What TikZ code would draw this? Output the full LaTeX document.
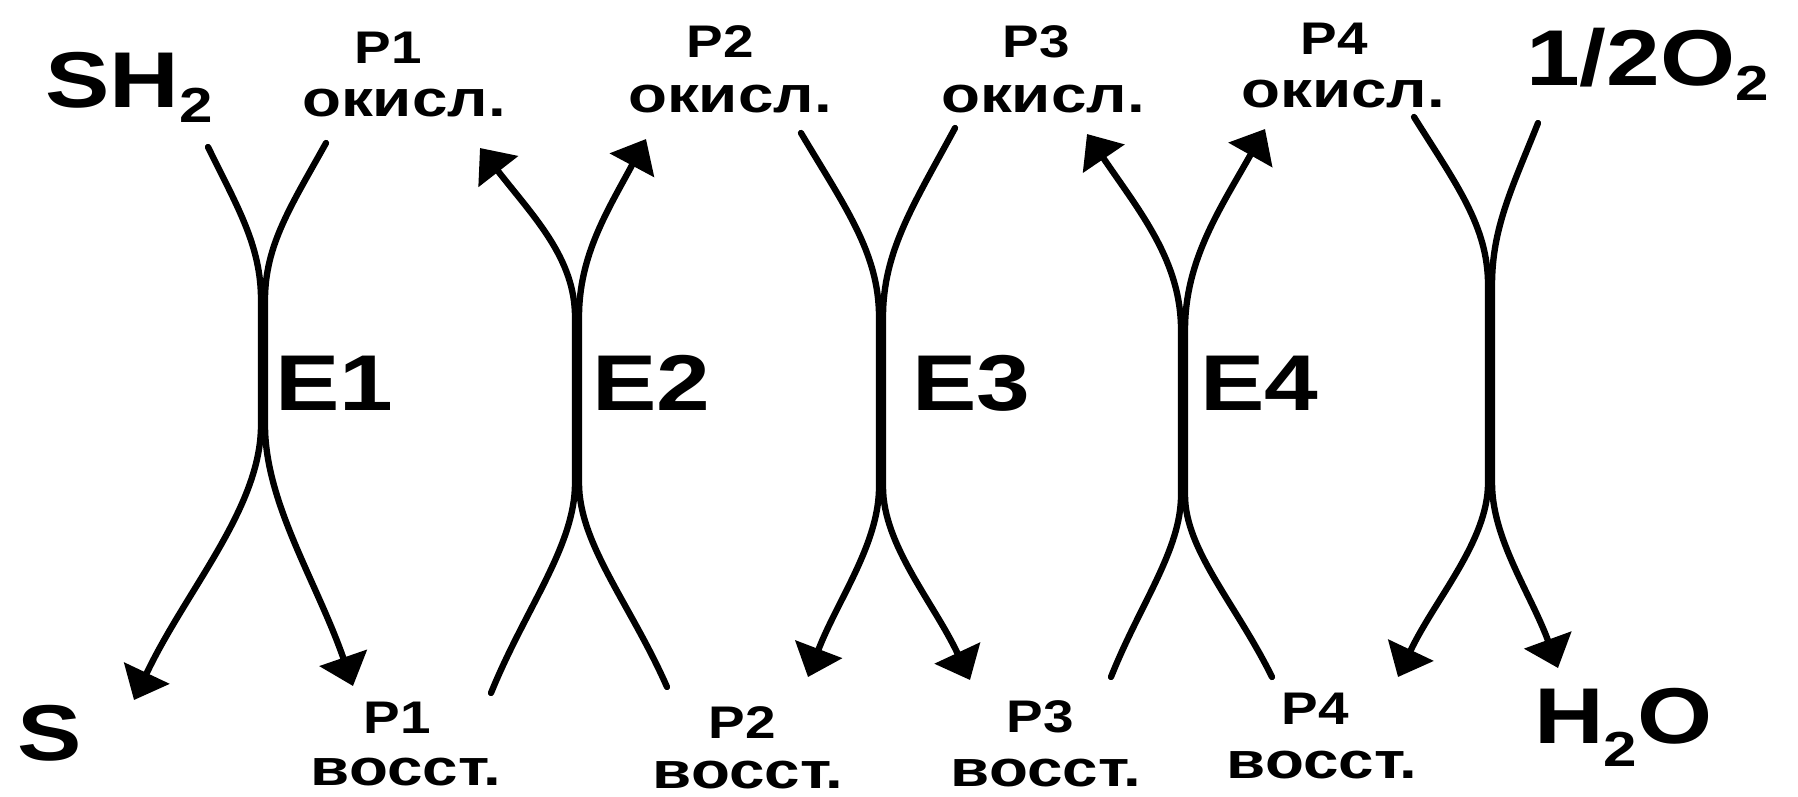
\documentclass[tikz,border=0pt]{standalone}
\usepackage{fontspec}
\setmainfont{Liberation Sans}
\usepackage{graphicx}
\usetikzlibrary{arrows.meta}
\newcommand\bigtxt[1]{\scalebox{1.22}[1]{\fontsize{22.5}{27}\selectfont\bfseries #1}}
\newcommand\ptxt[1]{\scalebox{1.2}[1]{\fontsize{13}{15}\selectfont\bfseries #1}}
\newcommand\rtxt[1]{\scalebox{1.25}[1]{\fontsize{14.5}{17}\selectfont\bfseries #1}}
\newcommand\subtxt[2]{\raisebox{-#1}{\fontsize{14}{16}\selectfont #2}}
\begin{document}
\begin{tikzpicture}[x=0.01cm,y=-0.01cm,
  lbl/.style={inner sep=0pt, outer sep=0pt, anchor=base},
  lblw/.style={inner sep=0pt, outer sep=0pt, anchor=base west},
  cur/.style={line width=1.8pt, line cap=round},
  arr/.style={cur, -{Triangle[length=8.5pt,width=14pt]}}
]
\useasboundingbox (0,0) rectangle (1798,796);

% big labels
\node[lblw] (sh2) at (45,107) {\bigtxt{SH\subtxt{4.5pt}{2}}};
\node[lblw] (s) at (18,760) {\bigtxt{S}};
\node[lblw] (o2) at (1526,85) {\bigtxt{1/2O\subtxt{4.3pt}{2}}};
\node[lblw] (h2o) at (1534,743) {\bigtxt{H\subtxt{6.8pt}{2}O}};

\node[lblw] (e1) at (275,410) {\bigtxt{E1}};
\node[lblw] (e2) at (592,410) {\bigtxt{E2}};
\node[lblw] (e3) at (912,410) {\bigtxt{E3}};
\node[lblw] (e4) at (1200,410) {\bigtxt{E4}};

% top labels
\node[lbl] (p1o) at (388,63) {\ptxt{P1}};
\node[lbl] (p1ot) at (404,116) {\rtxt{окисл.}};
\node[lbl] (p2o) at (720,57) {\ptxt{P2}};
\node[lbl] (p2ot) at (730,112) {\rtxt{окисл.}};
\node[lbl] (p3o) at (1036,57) {\ptxt{P3}};
\node[lbl] (p3ot) at (1043,112) {\rtxt{окисл.}};
\node[lbl] (p4o) at (1334,54) {\ptxt{P4}};
\node[lbl] (p4ot) at (1343,107) {\rtxt{окисл.}};

% bottom labels
\node[lbl] (p1r) at (397,733) {\ptxt{P1}};
\node[lbl] (p1rt) at (406,785) {\rtxt{восст.}};
\node[lbl] (p2r) at (742,738) {\ptxt{P2}};
\node[lbl] (p2rt) at (748,788) {\rtxt{восст.}};
\node[lbl] (p3r) at (1040,732) {\ptxt{P3}};
\node[lbl] (p3rt) at (1046,786) {\rtxt{восст.}};
\node[lbl] (p4r) at (1315,724) {\ptxt{P4}};
\node[lbl] (p4rt) at (1322,778) {\rtxt{восст.}};

% contact points (left / right strands) and free ends
\coordinate (e1tl0) at (261,300); \coordinate (e1bl0) at (261,425);
\coordinate (e1tr0) at (265,300); \coordinate (e1br0) at (265,425);
\coordinate (e1tl) at (208,147); \coordinate (e1tr) at (326,143);
\coordinate (e1bl) at (134,700); \coordinate (e1br) at (353,686);

\coordinate (e2tl0) at (575,317); \coordinate (e2bl0) at (575,483);
\coordinate (e2tr0) at (579,317); \coordinate (e2br0) at (579,483);
\coordinate (e2tl) at (480,148); \coordinate (e2tr) at (646,139);
\coordinate (e2bl) at (491,693); \coordinate (e2br) at (667,687);

\coordinate (e3tl0) at (879,317); \coordinate (e3bl0) at (879,487);
\coordinate (e3tr0) at (883,317); \coordinate (e3br0) at (883,487);
\coordinate (e3tl) at (801,133); \coordinate (e3tr) at (955,128);
\coordinate (e3bl) at (808,677); \coordinate (e3br) at (970,680);

\coordinate (e4tl0) at (1181,330); \coordinate (e4bl0) at (1181,495);
\coordinate (e4tr0) at (1185,330); \coordinate (e4br0) at (1185,495);
\coordinate (e4tl) at (1087,134); \coordinate (e4tr) at (1265,129);
\coordinate (e4bl) at (1111,677); \coordinate (e4br) at (1272,677);

\coordinate (e5tl0) at (1488,285); \coordinate (e5bl0) at (1488,483);
\coordinate (e5tr0) at (1492,285); \coordinate (e5br0) at (1492,483);
\coordinate (e5tl) at (1414,117); \coordinate (e5tr) at (1538,123);
\coordinate (e5bl) at (1398,677); \coordinate (e5br) at (1558,668);

% E1
\draw[arr] (e1tl) .. controls (238,208) and (261,246) .. (e1tl0) -- (e1bl0) .. controls (261,508) and (186,590) .. (e1bl);
\draw[arr] (e1tr) .. controls (291,206) and (265,245) .. (e1tr0) -- (e1br0) .. controls (265,503) and (317,582) .. (e1br);
% E2
\draw[arr] (e2bl) .. controls (525,609) and (575,546) .. (e2bl0) -- (e2tl0) .. controls (575,258) and (533,216) .. (e2tl);
\draw[arr] (e2br) .. controls (631,605) and (579,544) .. (e2br0) -- (e2tr0) .. controls (579,255) and (608,210) .. (e2tr);
% E3
\draw[arr] (e3tl) .. controls (845,207) and (879,253) .. (e3tl0) -- (e3bl0) .. controls (879,544) and (837,601) .. (e3bl);
\draw[arr] (e3tr) .. controls (914,204) and (883,251) .. (e3tr0) -- (e3br0) .. controls (883,545) and (934,603) .. (e3br);
% E4
\draw[arr] (e4bl) .. controls (1140,604) and (1181,550) .. (e4bl0) -- (e4tl0) .. controls (1181,261) and (1140,212) .. (e4tl);
\draw[arr] (e4br) .. controls (1236,604) and (1185,550) .. (e4br0) -- (e4tr0) .. controls (1185,260) and (1220,209) .. (e4tr);
% E5
\draw[arr] (e5tl) .. controls (1456,184) and (1488,226) .. (e5tl0) -- (e5bl0) .. controls (1488,541) and (1435,599) .. (e5bl);
\draw[arr] (e5tr) .. controls (1512,188) and (1492,228) .. (e5tr0) -- (e5br0) .. controls (1492,539) and (1531,594) .. (e5br);
\end{tikzpicture}
\end{document}
